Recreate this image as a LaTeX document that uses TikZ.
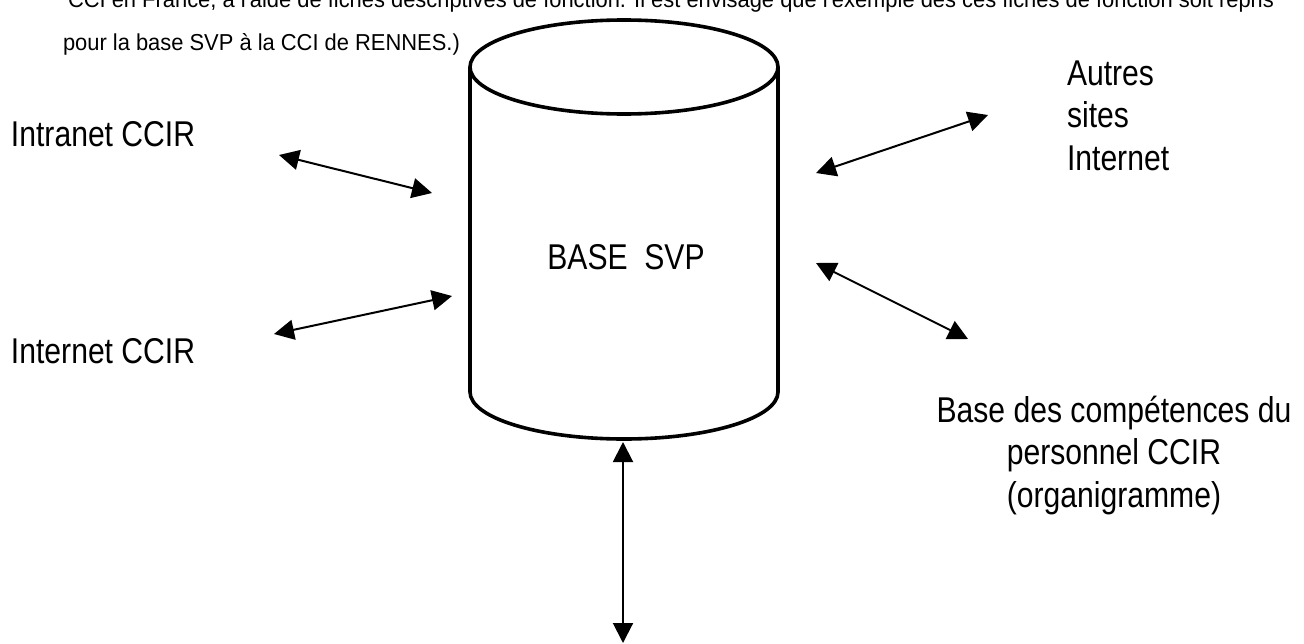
\documentclass[tikz,border=0pt]{standalone}
\usepackage{fontspec}
\setmainfont{Liberation Sans}
\newfontfamily\labelfont[FakeStretch=0.84]{Liberation Sans}
\newfontfamily\notefont[FakeStretch=0.95]{Liberation Sans}
\usetikzlibrary{arrows.meta}

\begin{document}
\begin{tikzpicture}[x=0.25mm, y=-0.25mm, line width=0.5mm,
  lbl/.style={font=\labelfont\fontsize{25.5}{29.9}\selectfont, inner sep=0pt},
  note/.style={font=\notefont\fontsize{16.4}{20}\selectfont, inner sep=0pt, anchor=base west},
  link/.style={{Triangle[length=5mm,width=5mm]}-{Triangle[length=5mm,width=5mm]}}]
  \useasboundingbox (0,0) rectangle (1304,643);

  \node[note] (prev) at (67,7) {CCI en France, à l'aide de fiches descriptives de fonction. Il est envisagé que l'exemple des ces fiches de fonction soit repris};
  \node[note] (pour) at (62,50) {pour la base SVP à la CCI de RENNES.)};

  % the database
  \draw[line width=0.9mm] (624,67) ellipse [x radius=154, y radius=47];
  \draw[line width=0.9mm] (470,67) -- (470,392)
    arc [start angle=180, end angle=0, x radius=154, y radius=47] -- (778,67);
  \node[lbl, anchor=base] (svp) at (626,269) {BASE~~SVP};

  \node[lbl, anchor=base west] (intranet) at (10,146) {Intranet CCIR};
  \node[lbl, anchor=base west] (internet) at (10,363) {Internet CCIR};
  % base = last line
  \node[lbl, anchor=base west, align=left] (autres) at (1066,170) {Autres\\sites\\Internet};
  \node[lbl, anchor=base, align=center] (comp) at (1114,507) {Base des compétences du\\personnel CCIR\\(organigramme)};

  \coordinate (intraL) at (279,155);
  \coordinate (intraR) at (432,193);
  \coordinate (interL) at (274,334);
  \coordinate (interR) at (452,296);
  \coordinate (autresL) at (816,173);
  \coordinate (autresR) at (988,115);
  \coordinate (compL) at (816,263);
  \coordinate (compR) at (968,339);
  \coordinate (svpB) at (623,442);
  \coordinate (svpOut) at (623,643);

  \draw[link] (intraL) -- (intraR);
  \draw[link] (interL) -- (interR);
  \draw[link] (autresL) -- (autresR);
  \draw[link] (compL) -- (compR);
  \draw[link] (svpB) -- (svpOut);
\end{tikzpicture}
\end{document}
